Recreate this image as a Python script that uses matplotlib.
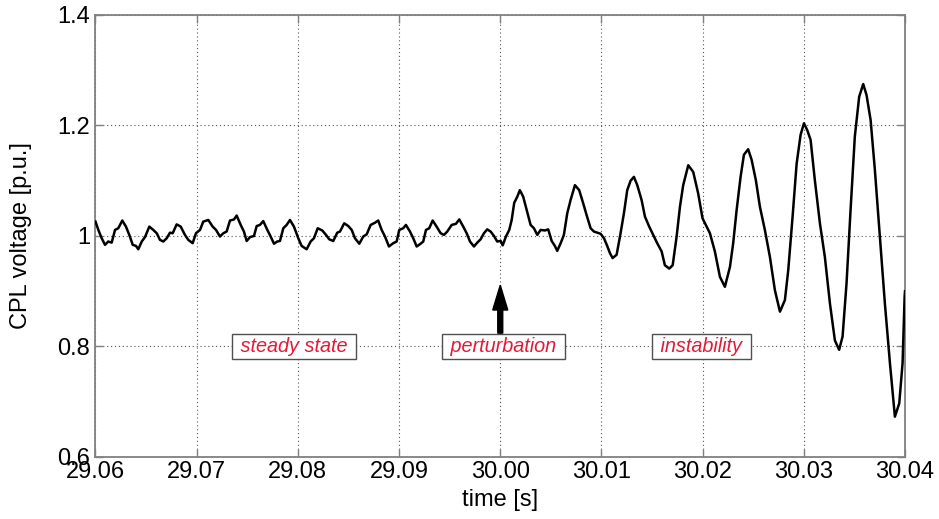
import matplotlib
matplotlib.use('Agg')
import matplotlib.pyplot as plt

# time offset from the start of the window [ms] and CPL voltage [p.u.]
t_ms = [0.00, 0.28, 0.61, 0.94, 1.26, 1.60, 1.93, 2.25, 2.65, 3.01, 3.34, 3.68, 4.00, 4.23, 4.57, 4.89,
        5.32, 5.71, 6.05, 6.37, 6.70, 7.04, 7.36, 7.63, 8.02, 8.42, 8.84, 9.17, 9.60, 9.93,
        10.33, 10.65, 11.15, 11.58, 11.91, 12.30, 12.63, 12.96, 13.29, 13.69, 13.95, 14.35, 14.67, 14.94,
        15.27, 15.66, 15.93, 16.25, 16.58, 16.98, 17.31, 17.64, 17.96, 18.23, 18.56, 18.89, 19.22,
        19.61, 20.04, 20.37, 20.87, 21.26, 21.59, 21.96, 22.41, 22.78, 23.10, 23.50, 23.89, 24.16,
        24.58, 24.98, 25.32, 25.64, 26.07, 26.46, 26.80, 27.19, 27.62, 27.94, 28.28, 28.61, 29.00,
        29.43, 29.76, 30.02, 30.41, 30.68, 31.08, 31.40, 31.74, 32.13, 32.39, 32.66, 32.98, 33.32,
        33.71, 34.11, 34.44, 34.76, 35.20, 35.62, 35.95, 36.34, 36.68, 37.01, 37.40, 37.73, 38.06,
        38.39, 38.71, 39.05, 39.38, 39.70, 40.04,
        40.24, 40.56, 40.89, 41.13, 41.38, 41.68, 41.94, 42.27, 42.61, 43.00, 43.33, 43.66, 43.99,
        44.42, 44.74, 45.08, 45.40, 45.63, 45.97, 46.29, 46.62, 46.95, 47.38, 47.80, 48.20, 48.53,
        48.93, 49.26, 49.58, 49.92, 50.25, 50.57, 50.84, 51.10, 51.50, 51.89, 52.22, 52.55, 52.88,
        53.21, 53.54, 53.97, 54.30, 54.72, 55.12, 55.51, 55.95, 56.27, 56.70, 57.04, 57.43, 57.76,
        58.08, 58.58, 59.07, 59.56, 59.99, 60.23, 60.72, 61.21, 61.71, 62.20, 62.70, 63.02, 63.36,
        63.75, 64.08, 64.50, 64.84, 65.26, 65.66, 66.15, 66.65, 67.14, 67.64, 68.13, 68.46, 68.89,
        69.29, 69.68, 70.01, 70.33, 70.67, 71.09, 71.59, 72.08, 72.58, 73.07, 73.49, 73.83, 74.22,
        74.62, 75.04, 75.47, 75.87, 76.20, 76.60, 77.02, 77.52, 78.01, 78.51, 79.00, 79.43, 79.76,
        79.96, 80.00]
v_pu = [1.026, 1.011, 0.996, 0.984, 0.990, 0.988, 1.011, 1.014, 1.028, 1.017, 1.002, 0.984, 0.982, 0.976, 0.990, 0.998,
        1.017, 1.011, 1.005, 0.993, 0.990, 0.996, 1.006, 1.005, 1.021, 1.017, 1.002, 0.993, 0.987, 1.005,
        1.011, 1.026, 1.029, 1.017, 1.011, 0.999, 1.005, 1.008, 1.028, 1.030, 1.037, 1.020, 1.008, 0.991,
        0.998, 1.000, 1.018, 1.020, 1.027, 1.011, 0.999, 0.986, 0.990, 0.991, 1.014, 1.020, 1.029,
        1.017, 0.996, 0.982, 0.976, 0.990, 0.996, 1.014, 1.010, 1.002, 0.994, 0.991, 1.006, 1.008,
        1.023, 1.018, 1.011, 0.996, 0.986, 0.999, 1.003, 1.020, 1.024, 1.028, 1.011, 0.999, 0.981,
        0.987, 0.990, 1.011, 1.014, 1.020, 1.008, 0.996, 0.981, 0.986, 0.990, 1.011, 1.014, 1.028,
        1.017, 1.005, 1.002, 1.008, 1.020, 1.022, 1.030, 1.017, 1.005, 0.990, 0.981, 0.988, 0.994,
        1.005, 1.012, 1.008, 1.000, 0.990, 0.991,
        0.983, 0.999, 1.011, 1.029, 1.060, 1.071, 1.083, 1.071, 1.047, 1.020, 1.014, 1.002, 1.011,
        1.010, 1.012, 0.991, 0.982, 0.973, 0.987, 1.002, 1.041, 1.065, 1.092, 1.083, 1.059, 1.038,
        1.014, 1.008, 1.006, 1.004, 0.996, 0.982, 0.969, 0.960, 0.966, 1.005, 1.041, 1.083, 1.100,
        1.107, 1.092, 1.065, 1.035, 1.017, 1.002, 0.987, 0.972, 0.947, 0.941, 0.947, 0.999, 1.053,
        1.092, 1.128, 1.116, 1.077, 1.032, 1.023, 1.005, 0.972, 0.926, 0.908, 0.944, 0.987, 1.047,
        1.107, 1.147, 1.157, 1.138, 1.101, 1.053, 1.011, 0.962, 0.902, 0.863, 0.884, 0.938, 1.035,
        1.131, 1.183, 1.204, 1.192, 1.174, 1.101, 1.023, 0.962, 0.878, 0.811, 0.794, 0.818, 0.914,
        1.047, 1.180, 1.252, 1.275, 1.255, 1.210, 1.120, 0.999, 0.878, 0.770, 0.673, 0.697, 0.770,
        0.890, 0.900]

x_ticks = [0, 10, 20, 30, 40, 50, 60, 70, 80]
x_tick_labels = ['29.06', '29.07', '29.08', '29.09', '30.00', '30.01', '30.02', '30.03', '30.04']
y_ticks = [0.6, 0.8, 1.0, 1.2, 1.4]
y_tick_labels = ['0.6', '0.8', '1', '1.2', '1.4']

annot_texts = [' steady state ', ' perturbation ', ' instability ']
annot_x = [19.6, 40.3, 59.9]
annot_y = 0.8
arrow_x = 40.0
arrow_base = 0.824
arrow_tip = 0.911

plt.rcParams['font.family'] = ['Liberation Sans', 'DejaVu Sans']

fig = plt.figure(figsize=(9.39, 5.19), dpi=100)
ax = fig.add_axes([0.1017, 0.1195, 0.8621, 0.8516])

ax.plot(t_ms, v_pu, color='black', lw=1.8, zorder=3, solid_joinstyle='round')

ax.set_xlim(0, 80)
ax.set_ylim(0.6, 1.4)
ax.set_xticks(x_ticks)
ax.set_xticklabels(x_tick_labels)
ax.set_yticks(y_ticks)
ax.set_yticklabels(y_tick_labels)

ax.set_axisbelow(True)
ax.grid(True, linestyle=(0, (1, 2.5)), color='#555555', lw=0.8)

for s in ax.spines.values():
    s.set_color('#808080')
    s.set_linewidth(1.3)

ax.tick_params(direction='in', length=6, width=1, color='#808080',
               top=True, right=True, labelsize=17, labelcolor='black')
ax.tick_params(axis='x', pad=3)
ax.tick_params(axis='y', pad=4)

ax.set_xlabel('time [s]', fontsize=17, labelpad=4)
ax.set_ylabel('CPL voltage [p.u.]', fontsize=17, labelpad=18)

for txt, xx in zip(annot_texts, annot_x):
    ax.text(xx, annot_y, txt, fontsize=14.3, style='italic', color='#e31937',
            ha='center', va='center', zorder=5,
            bbox=dict(boxstyle='square,pad=0.15', fc='white', ec='#505050', lw=1))

ax.arrow(arrow_x, arrow_base, 0, arrow_tip - arrow_base, width=0.49, head_width=1.48,
         head_length=0.045, length_includes_head=True, color='black', zorder=4)

fig.savefig('out.png', dpi=100)
